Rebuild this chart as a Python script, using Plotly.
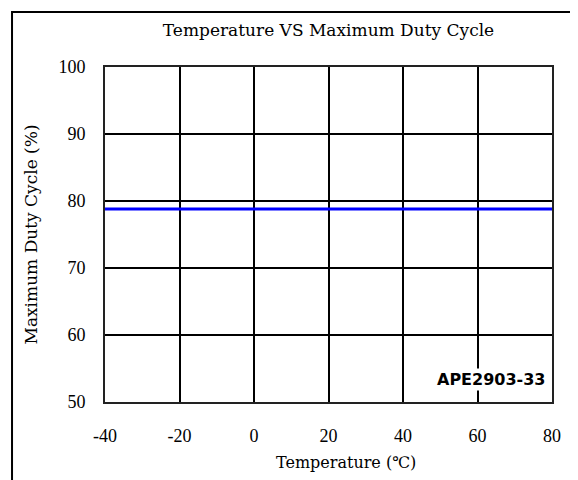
import plotly.graph_objects as go

temps = [-40, -20, 0, 20, 40, 60, 80]
duty = [78.8, 78.8, 78.8, 78.8, 78.8, 78.8, 78.8]
x_ticks = [-40, -20, 0, 20, 40, 60, 80]
x_tick_labels = ["-40", "-20", "0", "20", "40", "60", "80"]
y_ticks = [50, 60, 70, 80, 90, 100]
title_text = "Temperature VS Maximum Duty Cycle"
x_title = "Temperature (℃)"
y_title = "Maximum Duty Cycle (%)"
label_text = "APE2903-33"

fig = go.Figure()
fig.add_trace(go.Scatter(x=temps, y=duty, mode="lines",
                         line=dict(color="#0000ff", width=3), showlegend=False))

tick_font = dict(family="Liberation Serif", size=18, color="black")
title_font = dict(family="DejaVu Serif", size=17, color="black")

fig.update_layout(
    width=578, height=480,
    margin=dict(l=97, r=34, t=59, b=86),
    paper_bgcolor="white", plot_bgcolor="white",
    title=dict(text=title_text, font=title_font, x=0.5, xref="paper",
               y=1 - 22 / 480, yanchor="middle", xanchor="center"),
    xaxis=dict(range=[-40, 80], tickvals=x_ticks, ticktext=x_tick_labels, showgrid=True,
               gridcolor="black", gridwidth=1.5, showline=True, linecolor="#222",
               linewidth=2, mirror=True, zeroline=False, ticks="",
               tickfont=tick_font, ticklabelstandoff=16),
    yaxis=dict(range=[50, 100], tickvals=y_ticks, showgrid=True,
               gridcolor="black", gridwidth=1.5, showline=True, linecolor="#222",
               linewidth=2, mirror=True, zeroline=False, ticks="",
               tickfont=tick_font, ticklabelstandoff=14,
               title=dict(text=y_title, font=title_font, standoff=16)),
    shapes=[
        dict(type="path", xref="paper", yref="paper",
             path="M -0.208 -0.3 L -0.208 1.164 L 1.049 1.164 L 1.049 -0.3",
             line=dict(color="black", width=2)),
    ],
    annotations=[
        dict(text=x_title, x=0.539, y=-0.182, xref="paper", yref="paper",
             xanchor="center", yanchor="middle", showarrow=False,
             font=dict(family="DejaVu Serif", size=16, color="black")),
        dict(text="<b>" + label_text + "</b>", x=80, y=53.3, xref="x", yref="y",
             xanchor="right", yanchor="middle", xshift=-5, showarrow=False,
             bgcolor="white", font=dict(family="DejaVu Sans", size=16, color="black")),
    ],
)

fig.write_html("out.html")
